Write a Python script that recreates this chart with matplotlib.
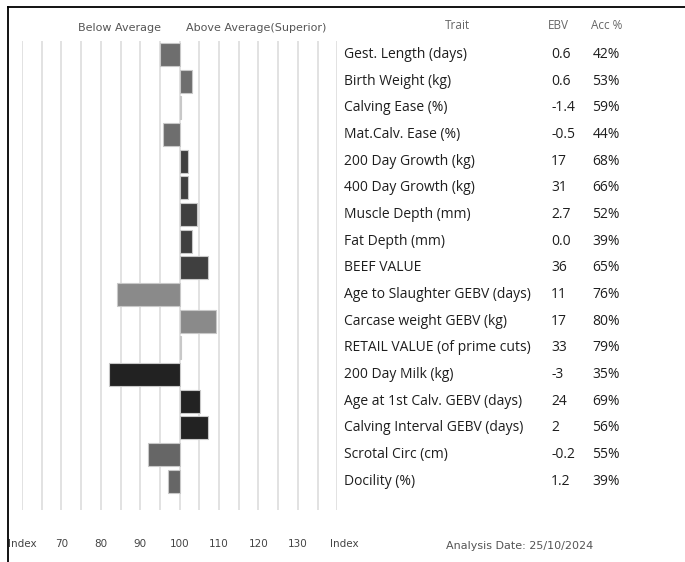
import matplotlib
matplotlib.use("Agg")
import matplotlib.pyplot as plt
from matplotlib.lines import Line2D
from matplotlib.transforms import blended_transform_factory

# traits, EBVs, accuracies and index values
traits = ["Gest. Length (days)", "Birth Weight (kg)", "Calving Ease (%)",
          "Mat.Calv. Ease (%)", "200 Day Growth (kg)", "400 Day Growth (kg)",
          "Muscle Depth (mm)", "Fat Depth (mm)", "BEEF VALUE",
          "Age to Slaughter GEBV (days)", "Carcase weight GEBV (kg)",
          "RETAIL VALUE (of prime cuts)", "200 Day Milk (kg)",
          "Age at 1st Calv. GEBV (days)", "Calving Interval GEBV (days)",
          "Scrotal Circ (cm)", "Docility (%)"]
ebv = ["0.6", "0.6", "-1.4", "-0.5", "17", "31", "2.7", "0.0", "36", "11",
       "17", "33", "-3", "24", "2", "-0.2", "1.2"]
acc = ["42%", "53%", "59%", "44%", "68%", "66%", "52%", "39%", "65%", "76%",
       "80%", "79%", "35%", "69%", "56%", "55%", "39%"]
index = [95.1, 103.2, 100.4, 95.9, 102.1, 102.1, 104.3, 103.2, 107.1, 84.0,
         109.3, 100.4, 82.0, 105.1, 107.1, 92.0, 97.0]
groups = [0, 0, 0, 0, 1, 1, 1, 1, 1, 2, 2, 2, 3, 3, 3, 4, 4]
group_colors = ["#6e6e6e", "#3f3f3f", "#8a8a8a", "#222222", "#666666"]
ticks = [70, 80, 90, 100, 110, 120, 130]

W, H = 685, 562
fig = plt.figure(figsize=(W / 100, H / 100), dpi=100)

# bar panel: x 60..140 spans px 22..337, rows 26.66 px apart
left, right = 22 / W, 337.3 / W
top, bottom = 41.2, 510
ax = fig.add_axes([left, 1 - bottom / H, right - left, (bottom - top) / H])
n = len(traits)
ax.set_xlim(60, 140)
ax.set_ylim((bottom - 54.5) / 26.66, -0.5)
for s in ax.spines.values():
    s.set_visible(False)
ax.set_yticks([])
ax.set_xticks([])

for g in range(60, 141, 5):
    ax.axvline(g, color="#dadada", lw=1.1, zorder=0)

for i, v in enumerate(index):
    ax.barh(i, v - 100, left=100, height=0.86, color=group_colors[groups[i]],
            edgecolor="#c8c8c8", linewidth=0.8, zorder=2)

# bottom scale labels
tb = blended_transform_factory(ax.transData, fig.transFigure)
ylab = 1 - 544 / H
for t in ticks:
    ax.text(t, ylab, str(t), transform=tb, ha="center", va="center",
            fontsize=7.5, color="#444444", family="DejaVu Sans")
ax.text(60.2, ylab, "Index", transform=tb, ha="center", va="center",
        fontsize=7.5, color="#444444", family="DejaVu Sans")
ax.text(141.8, ylab, "Index", transform=tb, ha="center", va="center",
        fontsize=7.5, color="#444444", family="DejaVu Sans")

# header above bars
fig.text(78 / W, 1 - 28 / H, "Below Average", ha="left", va="center",
         fontsize=8, color="#555555", family="DejaVu Sans")
fig.text(186 / W, 1 - 28 / H, "Above Average(Superior)", ha="left", va="center",
         fontsize=8, color="#555555", family="DejaVu Sans")

# trait table
tfont = "Open Sans"
tt = blended_transform_factory(fig.transFigure, ax.transData)
for i in range(n):
    ax.text(344.5 / W, i, traits[i], transform=tt, ha="left", va="center",
            fontsize=10, color="#1e1e1e", family=tfont)
    ax.text(551 / W, i, ebv[i], transform=tt, ha="left", va="center",
            fontsize=10, color="#1e1e1e", family=tfont)
    ax.text(592.5 / W, i, acc[i], transform=tt, ha="left", va="center",
            fontsize=10, color="#1e1e1e", family=tfont)
fig.text(457 / W, 1 - 25.5 / H, "Trait", ha="center", va="center",
         fontsize=8.5, color="#666666", family=tfont)
fig.text(558.5 / W, 1 - 25.5 / H, "EBV", ha="center", va="center",
         fontsize=8.5, color="#666666", family=tfont)
fig.text(591 / W, 1 - 25.5 / H, "Acc %", ha="left", va="center",
         fontsize=8.5, color="#666666", family=tfont)

fig.text(446 / W, 1 - 546 / H, "Analysis Date: 25/10/2024", ha="left",
         va="center", fontsize=8, color="#555555", family="DejaVu Sans")

# frame: top and left lines only
fig.add_artist(Line2D([8 / W, 1], [1 - 7 / H, 1 - 7 / H], color="black", lw=1.3))
fig.add_artist(Line2D([8 / W, 8 / W], [1 - 7 / H, 0], color="black", lw=1.3))

fig.savefig("out.png", dpi=100)
